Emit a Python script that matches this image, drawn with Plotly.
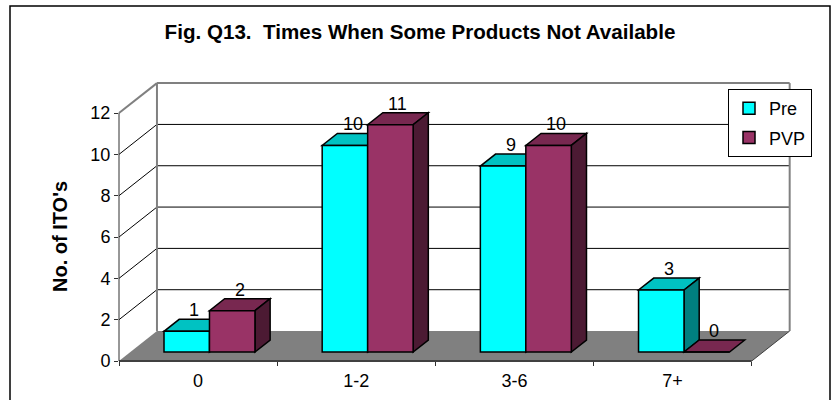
import plotly.graph_objects as go

# ---- data -------------------------------------------------------------
categories = ["0", "1-2", "3-6", "7+"]
pre_values = [1, 10, 9, 3]
pvp_values = [2, 11, 10, 0]
series_names = ["Pre", "PVP"]
y_ticks = [0, 2, 4, 6, 8, 10, 12]

# ---- style ------------------------------------------------------------
FONT = "Arial, Liberation Sans, sans-serif"
FRONT = {"Pre": "#00FFFF", "PVP": "#993366"}
TOP = {"Pre": "#00C2C2", "PVP": "#782850"}
SIDE = {"Pre": "#008080", "PVP": "#4C1A33"}
WALL_GRAY = "#808080"

# pseudo-3D box, in axis units
DEPTH_X = 0.24          # floor depth projected on the category axis
DEPTH_Y = 1.45          # floor depth projected on the value axis
BAR_Z0, BAR_Z1 = 0.3, 0.7   # bars occupy this slice of the floor depth
BAR_W = 0.2875          # width of one bar (category units)
X_MAX, Y_MAX = 4.28, 13.6
N = len(categories)
Y_TOP = max(y_ticks)

W, H = 840, 400
ML, MR, MT, MB = 119, 44, 80, 39
PW, PH = W - ML - MR, H - MT - MB

fig = go.Figure()


def px(x):
    return x / X_MAX


def py(y):
    return y / Y_MAX


shapes = []


def wall_line(x0, y0, x1, y1, color, width):
    shapes.append(dict(type="line", xref="paper", yref="paper",
                       x0=px(x0), y0=py(y0), x1=px(x1), y1=py(y1),
                       line=dict(color=color, width=width), layer="below"))


def poly_path(pts):
    return "M " + " L ".join(f"{x},{y}" for x, y in pts) + " Z"


# back wall
shapes.append(dict(type="rect", xref="paper", yref="paper",
                   x0=px(DEPTH_X), y0=py(DEPTH_Y), x1=px(N + DEPTH_X), y1=py(Y_TOP + DEPTH_Y),
                   fillcolor="white", line=dict(width=0), layer="below"))
for v in y_ticks[1:-1]:
    wall_line(DEPTH_X, v + DEPTH_Y, N + DEPTH_X, v + DEPTH_Y, "#000000", 1)
    wall_line(0, v, DEPTH_X, v + DEPTH_Y, "#000000", 1)
wall_line(0, Y_TOP, DEPTH_X, Y_TOP + DEPTH_Y, WALL_GRAY, 2)
wall_line(DEPTH_X, Y_TOP + DEPTH_Y, N + DEPTH_X, Y_TOP + DEPTH_Y, WALL_GRAY, 2)
wall_line(DEPTH_X, DEPTH_Y, DEPTH_X, Y_TOP + DEPTH_Y, WALL_GRAY, 2)
wall_line(N + DEPTH_X, DEPTH_Y, N + DEPTH_X, Y_TOP + DEPTH_Y, WALL_GRAY, 2)

# floor
floor = [(0, 0), (N, 0), (N + DEPTH_X, DEPTH_Y), (DEPTH_X, DEPTH_Y)]
shapes.append(dict(type="path", xref="paper", yref="paper",
                   path=poly_path([(px(x), py(y)) for x, y in floor]),
                   fillcolor=WALL_GRAY, line=dict(width=0), layer="below"))
wall_line(N, 0, N + DEPTH_X, DEPTH_Y, "#404040", 1)
wall_line(0, 0, N, 0, "#404040", 2)
wall_line(0, 0, 0, Y_TOP, "#303030", 1)

# bars: front faces as bar traces, top and side faces as shapes behind them
bx = BAR_Z0 * DEPTH_X
by = BAR_Z0 * DEPTH_Y
ddx = (BAR_Z1 - BAR_Z0) * DEPTH_X
ddy = (BAR_Z1 - BAR_Z0) * DEPTH_Y
centers = [i + 0.5 + bx for i in range(N)]

annotations = []
for name, values, off in [("Pre", pre_values, -BAR_W), ("PVP", pvp_values, 0.0)]:
    fig.add_trace(go.Bar(
        x=centers, y=values, base=by, width=BAR_W, offset=off, name=name,
        marker=dict(color=FRONT[name], line=dict(color="black", width=1.5)),
        legendgroup=name, hoverinfo="skip"))
    for c, v in zip(centers, values):
        xl, xr = c + off, c + off + BAR_W
        top = by + v
        shapes.append(dict(type="path", xref="x", yref="y", layer="between",
                           path=poly_path([(xl, top), (xr, top), (xr + ddx, top + ddy), (xl + ddx, top + ddy)]),
                           fillcolor=TOP[name], line=dict(color="black", width=1.5)))
        if v > 0:
            shapes.append(dict(type="path", xref="x", yref="y", layer="between",
                               path=poly_path([(xr, by), (xr, top), (xr + ddx, top + ddy), (xr + ddx, by + ddy)]),
                               fillcolor=SIDE[name], line=dict(color="black", width=1.5)))
        # value label sitting on the back edge of the bar top
        annotations.append(dict(x=(xl + xr) / 2 + ddx / 2, y=top + ddy, xref="x", yref="y",
                                text=str(v), showarrow=False, xanchor="center", yanchor="bottom",
                                yshift=-3, font=dict(family=FONT, size=18, color="black")))

# outer chart border
shapes.append(dict(type="rect", xref="paper", yref="paper",
                   x0=(10 - ML) / PW, x1=(830 - ML) / PW,
                   y0=(H - MB - 404) / PH, y1=(H - MB - 6) / PH,
                   line=dict(color="black", width=1.5), layer="below"))

annotations.append(dict(text="No. of ITO's", textangle=-90, showarrow=False,
                        xref="paper", yref="paper",
                        x=(60 - ML) / PW, y=(H - MB - 237) / PH,
                        xanchor="center", yanchor="middle",
                        font=dict(family=FONT, size=20, color="black", weight="bold")))

fig.update_layout(
    width=W, height=H,
    margin=dict(l=ML, r=MR, t=MT, b=MB, autoexpand=False),
    paper_bgcolor="white", plot_bgcolor="rgba(0,0,0,0)",
    barmode="overlay",
    font=dict(family=FONT, size=18, color="black"),
    title=dict(text="Fig. Q13.\u00a0 Times When Some Products Not Available",
               font=dict(family=FONT, size=20.6, color="black", weight="bold"),
               x=0.5, xanchor="center", y=1 - 32 / H, yanchor="middle", yref="container"),
    shapes=shapes,
    annotations=annotations,
    xaxis=dict(range=[0, X_MAX], tickvals=[i + 0.5 for i in range(N)], ticktext=categories,
               ticks="outside", ticklen=3, tickcolor="rgba(0,0,0,0)",
               minor=dict(tickvals=list(range(N + 1)), ticks="outside", ticklen=4,
                          tickcolor="#303030", tickwidth=1),
               showgrid=False, zeroline=False, showline=False, fixedrange=True,
               automargin=False,
               tickfont=dict(family=FONT, size=18, color="black")),
    yaxis=dict(range=[0, Y_MAX], tickvals=y_ticks, ticks="outside", ticklen=4,
               tickcolor="#303030", tickwidth=1,
               showgrid=False, zeroline=False, showline=False, fixedrange=True,
               automargin=False,
               tickfont=dict(family=FONT, size=18, color="black")),
    legend=dict(x=(812 - ML) / PW, y=(H - MB - 89) / PH,
                xanchor="right", yanchor="top", bgcolor="white",
                bordercolor="black", borderwidth=1, tracegroupgap=3,
                font=dict(family=FONT, size=18, color="black")),
)

fig.write_html("out.html")
